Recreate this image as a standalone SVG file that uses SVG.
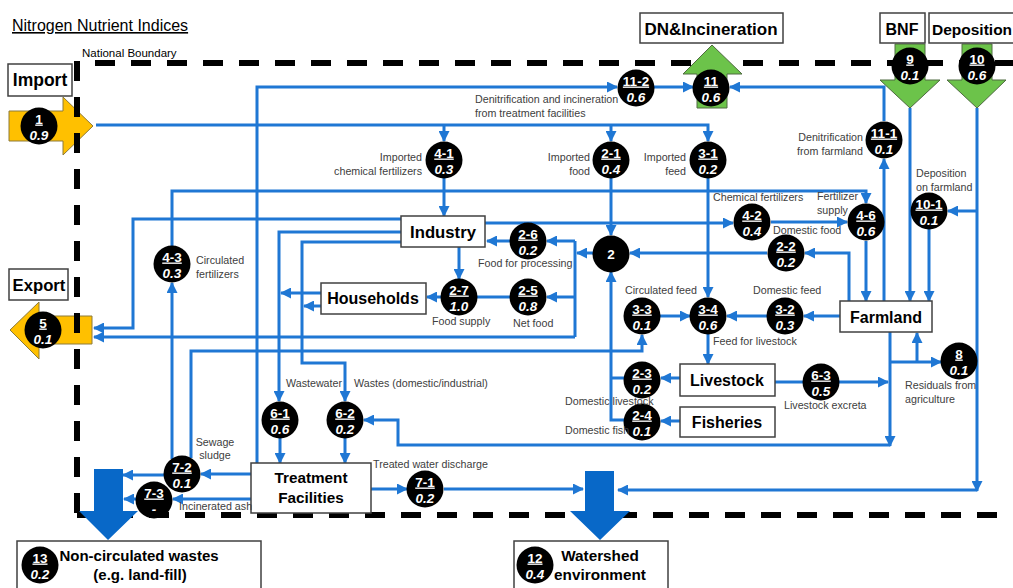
<svg xmlns="http://www.w3.org/2000/svg" width="1013" height="588" viewBox="0 0 1013 588">
<defs>
<marker id="ah" markerUnits="userSpaceOnUse" markerWidth="11" markerHeight="11" refX="10" refY="5.5" orient="auto">
<path d="M0,0 L11,5.5 L0,11 z" fill="#1F77D4"/>
</marker>
<style>
.c{fill:none;stroke:#1F77D4;stroke-width:3}
.a{marker-end:url(#ah)}
.box{fill:#fff;stroke:#404040;stroke-width:1.5}
.bt{font-family:'Liberation Sans',Arial,sans-serif;font-weight:bold;font-size:16px;fill:#000;text-anchor:middle}
.lb{font-family:'Liberation Sans',Arial,sans-serif;font-size:10.7px;fill:#404040}
.r{text-anchor:end}
.m{text-anchor:middle}
.bd{fill:#000}
.t1{font-family:'Liberation Sans',Arial,sans-serif;font-weight:bold;font-size:13.5px;fill:#fff;text-anchor:middle;text-decoration:underline}
.t2{font-family:'Liberation Sans',Arial,sans-serif;font-weight:bold;font-style:italic;font-size:13.5px;fill:#fff;text-anchor:middle}
.or{fill:#FFC000;stroke:#8C7A3A;stroke-width:1}
.gr{fill:#6CC34A;stroke:#4E6A40;stroke-width:1}
.bl{fill:#0868C8}
.dash{fill:none;stroke:#000;stroke-width:6;stroke-dasharray:20 16}
</style>
</defs>
<rect width="1013" height="588" fill="#fff"/>

<text x="12" y="31" style="font-family:'Liberation Sans',Arial,sans-serif;font-size:16px;text-decoration:underline" fill="#000">Nitrogen Nutrient Indices</text>
<text x="82" y="57" style="font-family:'Liberation Sans',Arial,sans-serif;font-size:11.5px" fill="#000">National Boundary</text>

<g id="import-arrow"><polygon class="or" points="9,111 63,111 63,97 93,126 63,155 63,141 9,141"/></g>
<g id="export-arrow"><polygon class="or" points="92,316 39,316 39,302 10,330 39,359 39,344 92,344"/></g>

<g id="boundary">
<path class="dash" d="M95,63 H1013"/>
<path class="dash" d="M77,61 V515"/>
<path class="dash" d="M77,515 H1013"/>
</g>

<g id="dn-arrow"><polygon class="gr" points="697,108 697,74 683,74 712,45 742,74 727,74 727,108"/></g>
<g id="bnf-arrow"><polygon class="gr" points="895,44 925,44 925,80 940,80 910,108 880,80 895,80"/></g>
<g id="dep-arrow"><polygon class="gr" points="962,44 992,44 992,80 1006,80 977,108 947,80 962,80"/></g>
<g id="ncw-arrow"><polygon class="bl" points="94,469 123,469 123,511 138,511 108,540 79,511 94,511"/></g>
<g id="ws-arrow"><polygon class="bl" points="585,471 614,471 614,511 630,511 600,540 570,511 585,511"/></g>

<g id="connectors">
<path class="c a" d="M96,125 H708 V141"/>
<path class="c a" d="M444,125 V141"/>
<path class="c a" d="M611,125 V141"/>
<path class="c a" d="M444,178 V216"/>
<path class="c a" d="M611,178 V235"/>
<path class="c a" d="M708,178 V297"/>
<path class="c a" d="M708,334 V364"/>
<path class="c a" d="M257,463 V87 H617"/>
<path class="c a" d="M654,87 H693"/>
<path class="c a" d="M884,301 V159"/>
<path class="c a" d="M884,121 V87 H730"/>
<path class="c a" d="M910,108 V301"/>
<path class="c a" d="M977,108 V491"/>
<path class="c a" d="M977,490 H618"/>
<path class="c a" d="M977,211 H948"/>
<path class="c a" d="M929,229 V301"/>
<path class="c a" d="M172,246 V191 H866 V203"/>
<path class="c a" d="M866,241 V301"/>
<path class="c a" d="M485,223 H733"/>
<path class="c a" d="M771,222 H847"/>
<path class="c a" d="M849,301 V253 H805"/>
<path class="c a" d="M767,253 H630"/>
<path class="c a" d="M593,253 H577"/>
<path class="c" d="M575,241 V337"/>
<path class="c a" d="M575,241 H547"/>
<path class="c a" d="M575,297 H547"/>
<path class="c a" d="M575,337 H94"/>
<path class="c a" d="M510,241 H487"/>
<path class="c" d="M510,297 H477"/>
<path class="c a" d="M459,247 V279"/>
<path class="c a" d="M441,297 H427"/>
<path class="c a" d="M401,219 H133 V328 H94"/>
<path class="c a" d="M401,232 H279 V401"/>
<path class="c a" d="M401,242 H302 V363 H345 V401"/>
<path class="c a" d="M321,293 H281"/>
<path class="c a" d="M321,306 H304"/>
<path class="c a" d="M280,438 V463"/>
<path class="c a" d="M345,438 V463"/>
<path class="c a" d="M251,474 H201"/>
<path class="c a" d="M164,475 H123"/>
<path class="c a" d="M251,499 H173"/>
<path class="c a" d="M136,499 H124"/>
<path class="c a" d="M371,489 H407"/>
<path class="c a" d="M444,489 H583"/>
<path class="c a" d="M172,459 V283"/>
<path class="c a" d="M191,458 V351 H642 V335"/>
<path class="c a" d="M660,316 H690"/>
<path class="c a" d="M840,316 H804"/>
<path class="c a" d="M767,316 H727"/>
<path class="c a" d="M680,378 H661"/>
<path class="c a" d="M680,421 H661"/>
<path class="c" d="M624,378 H611"/>
<path class="c a" d="M624,420 H611 V272"/>
<path class="c" d="M775,382 H803"/>
<path class="c a" d="M839,382 H888"/>
<path class="c a" d="M890,332 V446"/>
<path class="c a" d="M890,445 H398 V420 H364"/>
<path class="c a" d="M890,362 H941"/>
<path class="c a" d="M917,362 V333"/>
</g>

<g id="import"><rect class="box" x="8" y="64" width="64" height="32"/><text class="bt" x="40" y="86" style="font-size:17.5px">Import</text></g>
<g id="export"><rect class="box" x="9" y="269" width="59" height="31"/><text class="bt" x="39" y="291" style="font-size:16.7px">Export</text></g>
<g id="dn"><rect class="box" x="640" y="13" width="143" height="30"/><text class="bt" x="711" y="35" style="font-size:17px">DN&amp;Incineration</text></g>
<g id="bnf"><rect class="box" x="880" y="13" width="45" height="30"/><text class="bt" x="902" y="35">BNF</text></g>
<g id="deposition"><rect class="box" x="929" y="13" width="95" height="30"/><text class="bt" x="932" y="35" style="font-size:15.5px;text-anchor:start">Deposition</text></g>
<g id="industry"><rect class="box" x="401" y="216" width="84" height="31"/><text class="bt" x="443" y="238" style="font-size:16.7px">Industry</text></g>
<g id="households"><rect class="box" x="321" y="283" width="105" height="31"/><text class="bt" x="373" y="304">Households</text></g>
<g id="farmland"><rect class="box" x="840" y="301" width="92" height="31"/><text class="bt" x="886" y="323">Farmland</text></g>
<g id="livestock"><rect class="box" x="680" y="364" width="95" height="32"/><text class="bt" x="727" y="386">Livestock</text></g>
<g id="fisheries"><rect class="box" x="680" y="407" width="95" height="30"/><text class="bt" x="727" y="428">Fisheries</text></g>
<g id="treatment"><rect class="box" x="251" y="463" width="120" height="50"/><text class="bt" x="311" y="483" style="font-size:15.3px">Treatment</text><text class="bt" x="311" y="503" style="font-size:15.3px">Facilities</text></g>
<g id="noncirc"><rect class="box" x="17" y="541" width="244" height="52"/><text class="bt" x="139" y="561" style="font-size:15px">Non-circulated wastes</text><text class="bt" x="140" y="580" style="font-size:15px">(e.g. land-fill)</text></g>
<g id="watershed"><rect class="box" x="514" y="541" width="154" height="52"/><text class="bt" x="600" y="561" style="font-size:15.3px">Watershed</text><text class="bt" x="600" y="580" style="font-size:15.3px">environment</text></g>

<g id="n1"><circle class="bd" cx="39" cy="126" r="18.5"/><text class="t1" x="39" y="123.5">1</text><text class="t2" x="39" y="140">0.9</text></g>
<g id="n5"><circle class="bd" cx="43" cy="330" r="18.5"/><text class="t1" x="43" y="327.5">5</text><text class="t2" x="43" y="344">0.1</text></g>
<g id="n11"><circle class="bd" cx="711" cy="88" r="18.5"/><text class="t1" x="711" y="85.5">11</text><text class="t2" x="711" y="102">0.6</text></g>
<g id="n11-2"><circle class="bd" cx="636" cy="88" r="18.5"/><text class="t1" x="636" y="85.5">11-2</text><text class="t2" x="636" y="102">0.6</text></g>
<g id="n9"><circle class="bd" cx="910" cy="66" r="18.5"/><text class="t1" x="910" y="63.5">9</text><text class="t2" x="910" y="80">0.1</text></g>
<g id="n10"><circle class="bd" cx="977" cy="66" r="18.5"/><text class="t1" x="977" y="63.5">10</text><text class="t2" x="977" y="80">0.6</text></g>
<g id="n11-1"><circle class="bd" cx="884" cy="140" r="18.5"/><text class="t1" x="884" y="137.5">11-1</text><text class="t2" x="884" y="154">0.1</text></g>
<g id="n4-1"><circle class="bd" cx="444" cy="160" r="18.5"/><text class="t1" x="444" y="157.5">4-1</text><text class="t2" x="444" y="174">0.3</text></g>
<g id="n2-1"><circle class="bd" cx="611" cy="160" r="18.5"/><text class="t1" x="611" y="157.5">2-1</text><text class="t2" x="611" y="174">0.4</text></g>
<g id="n3-1"><circle class="bd" cx="708" cy="160" r="18.5"/><text class="t1" x="708" y="157.5">3-1</text><text class="t2" x="708" y="174">0.2</text></g>
<g id="n10-1"><circle class="bd" cx="929" cy="211" r="18.5"/><text class="t1" x="929" y="208.5">10-1</text><text class="t2" x="929" y="225">0.1</text></g>
<g id="n4-2"><circle class="bd" cx="752" cy="222" r="18.5"/><text class="t1" x="752" y="219.5">4-2</text><text class="t2" x="752" y="236">0.4</text></g>
<g id="n4-6"><circle class="bd" cx="866" cy="222" r="18.5"/><text class="t1" x="866" y="219.5">4-6</text><text class="t2" x="866" y="236">0.6</text></g>
<g id="n2-2"><circle class="bd" cx="786" cy="253" r="18.5"/><text class="t1" x="786" y="250.5">2-2</text><text class="t2" x="786" y="267">0.2</text></g>
<g id="n2"><circle class="bd" cx="611" cy="254" r="18.5"/><text class="t2" x="611" y="259" style="font-style:normal">2</text></g>
<g id="n2-6"><circle class="bd" cx="528" cy="241" r="18.5"/><text class="t1" x="528" y="238.5">2-6</text><text class="t2" x="528" y="255">0.2</text></g>
<g id="n2-5"><circle class="bd" cx="528" cy="297" r="18.5"/><text class="t1" x="528" y="294.5">2-5</text><text class="t2" x="528" y="311">0.8</text></g>
<g id="n2-7"><circle class="bd" cx="459" cy="297" r="18.5"/><text class="t1" x="459" y="294.5">2-7</text><text class="t2" x="459" y="311">1.0</text></g>
<g id="n4-3"><circle class="bd" cx="172" cy="264" r="18.5"/><text class="t1" x="172" y="261.5">4-3</text><text class="t2" x="172" y="278">0.3</text></g>
<g id="n3-3"><circle class="bd" cx="642" cy="316" r="18.5"/><text class="t1" x="642" y="313.5">3-3</text><text class="t2" x="642" y="330">0.1</text></g>
<g id="n3-4"><circle class="bd" cx="708" cy="316" r="18.5"/><text class="t1" x="708" y="313.5">3-4</text><text class="t2" x="708" y="330">0.6</text></g>
<g id="n3-2"><circle class="bd" cx="785" cy="316" r="18.5"/><text class="t1" x="785" y="313.5">3-2</text><text class="t2" x="785" y="330">0.3</text></g>
<g id="n8"><circle class="bd" cx="959" cy="361" r="18.5"/><text class="t1" x="959" y="358.5">8</text><text class="t2" x="959" y="375">0.1</text></g>
<g id="n2-3"><circle class="bd" cx="642" cy="380" r="18.5"/><text class="t1" x="642" y="377.5">2-3</text><text class="t2" x="642" y="394">0.2</text></g>
<g id="n2-4"><circle class="bd" cx="642" cy="422" r="18.5"/><text class="t1" x="642" y="419.5">2-4</text><text class="t2" x="642" y="436">0.1</text></g>
<g id="n6-3"><circle class="bd" cx="821" cy="382" r="18.5"/><text class="t1" x="821" y="379.5">6-3</text><text class="t2" x="821" y="396">0.5</text></g>
<g id="n6-1"><circle class="bd" cx="280" cy="420" r="18.5"/><text class="t1" x="280" y="417.5">6-1</text><text class="t2" x="280" y="434">0.6</text></g>
<g id="n6-2"><circle class="bd" cx="345" cy="420" r="18.5"/><text class="t1" x="345" y="417.5">6-2</text><text class="t2" x="345" y="434">0.2</text></g>
<g id="n7-2"><circle class="bd" cx="182" cy="474" r="18.5"/><text class="t1" x="182" y="471.5">7-2</text><text class="t2" x="182" y="488">0.1</text></g>
<g id="n7-3"><circle class="bd" cx="154" cy="500" r="18.5"/><text class="t1" x="154" y="497.5">7-3</text><text class="t2" x="154" y="514">-</text></g>
<g id="n7-1"><circle class="bd" cx="425" cy="489" r="18.5"/><text class="t1" x="425" y="486.5">7-1</text><text class="t2" x="425" y="503">0.2</text></g>
<g id="n13"><circle class="bd" cx="40" cy="565" r="18.5"/><text class="t1" x="40" y="562.5">13</text><text class="t2" x="40" y="579">0.2</text></g>
<g id="n12"><circle class="bd" cx="535" cy="565" r="18.5"/><text class="t1" x="535" y="562.5">12</text><text class="t2" x="535" y="579">0.4</text></g>

<g id="labels">
<text class="lb" x="475" y="103">Denitrification and incineration</text>
<text class="lb" x="475" y="117">from treatment facilities</text>
<text class="lb r" x="422" y="161">Imported</text>
<text class="lb r" x="422" y="175">chemical fertilizers</text>
<text class="lb r" x="590" y="161">Imported</text>
<text class="lb r" x="590" y="175">food</text>
<text class="lb r" x="686" y="161">Imported</text>
<text class="lb r" x="686" y="175">feed</text>
<text class="lb r" x="863" y="141">Denitrification</text>
<text class="lb r" x="863" y="155">from farmland</text>
<text class="lb" x="916" y="177">Deposition</text>
<text class="lb" x="916" y="191">on farmland</text>
<text class="lb" x="713" y="201">Chemical fertilizers</text>
<text class="lb" x="817" y="200">Fertilizer</text>
<text class="lb" x="817" y="214">supply</text>
<text class="lb" x="773" y="234">Domestic food</text>
<text class="lb" x="478" y="267">Food for processing</text>
<text class="lb" x="196" y="264">Circulated</text>
<text class="lb" x="196" y="278">fertilizers</text>
<text class="lb" x="513" y="327">Net food</text>
<text class="lb" x="432" y="325">Food supply</text>
<text class="lb" x="625" y="294">Circulated feed</text>
<text class="lb" x="753" y="294">Domestic feed</text>
<text class="lb" x="713" y="345">Feed for livestock</text>
<text class="lb" x="565" y="405">Domestic livestock</text>
<text class="lb" x="565" y="434">Domestic fish</text>
<text class="lb" x="784" y="409">Livestock excreta</text>
<text class="lb" x="905" y="389">Residuals from</text>
<text class="lb" x="905" y="403">agriculture</text>
<text class="lb" x="286" y="387">Wastewater</text>
<text class="lb" x="354" y="387">Wastes (domestic/industrial)</text>
<text class="lb m" x="215" y="446">Sewage</text>
<text class="lb m" x="215" y="459">sludge</text>
<text class="lb" x="179" y="510">Incinerated ash</text>
<text class="lb" x="373" y="468">Treated water discharge</text>
</g>
</svg>
